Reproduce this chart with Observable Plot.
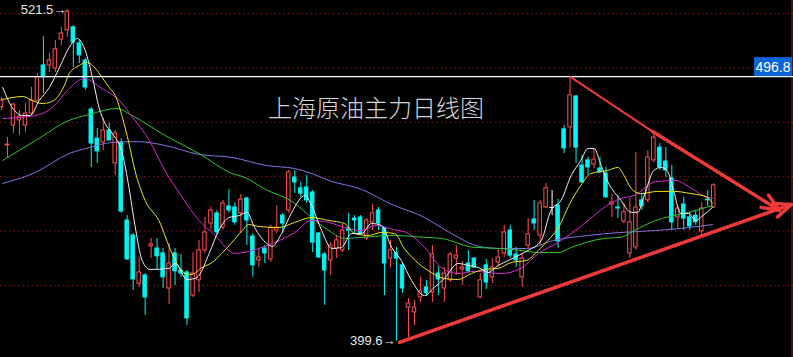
<!DOCTYPE html>
<html><head><meta charset="utf-8">
<script src="https://cdn.jsdelivr.net/npm/d3@7"></script>
<script src="https://cdn.jsdelivr.net/npm/@observablehq/plot@0.6"></script>
<style>html,body{margin:0;padding:0;background:#000;overflow:hidden}</style>
</head><body><div id="chart"></div>
<script>
// ---- data (daily candles, index 0..119) ----
const opens  = [485.5,471.5,478.8,480.7,478.8,483.2,488.0,500.9,500.9,499.8,510.4,513.8,514.9,509.0,502.7,484.7,474.0,472.6,477.0,464.9,
472.6,443.9,438.4,420.7,423.7,434.4,433.6,431.8,418.9,431.8,425.5,424.8,416.3,421.9,432.9,442.8,446.5,441.3,449.1,448.7,
446.5,452.0,438.0,429.2,433.6,429.6,440.2,445.7,447.6,459.7,455.7,456.0,454.2,439.1,431.4,429.2,433.6,432.9,441.0,444.6,
445.0,437.3,443.2,447.6,441.0,429.9,431.8,427.4,411.9,410.1,415.6,419.3,417.4,424.4,418.9,421.9,429.9,425.9,428.1,429.9,
415.6,427.4,423.0,428.5,431.8,440.2,431.4,423.0,434.7,444.3,438.4,448.7,448.7,449.4,477.4,478.1,489.5,464.1,466.0,464.5,
463.0,461.2,449.8,448.7,443.5,431.8,434.0,451.3,451.3,466.0,470.7,465.6,459.4,445.0,449.8,445.0,445.7,439.9,451.6,448.7];
const highs  = [489.1,474.4,486.9,484.3,486.9,492.8,497.9,511.5,505.3,510.1,514.9,521.5,515.6,510.1,503.5,485.4,477.7,481.4,479.6,477.0,
474.0,445.7,439.1,430.3,424.4,437.3,437.3,433.6,435.5,433.6,431.4,425.5,432.1,436.6,445.0,448.7,447.6,451.3,455.3,450.5,
453.5,452.4,439.1,433.6,434.7,442.1,449.4,446.5,462.3,462.3,457.9,460.5,454.9,439.5,432.1,435.8,438.4,442.4,446.5,445.7,
445.7,444.6,449.8,448.7,441.3,436.6,434.0,428.1,415.2,414.5,423.0,421.9,434.7,427.0,426.6,432.1,434.7,428.8,432.9,430.3,
424.4,429.6,429.9,433.6,442.1,442.1,434.0,431.8,444.6,451.3,451.3,457.5,454.9,451.6,478.8,496.8,489.9,467.8,467.1,470.4,
467.1,463.4,453.5,453.1,450.2,452.0,468.9,453.8,469.6,476.3,472.2,470.7,464.1,449.1,452.4,446.9,447.6,450.5,454.9,457.5];
const lows   = [484.3,467.1,475.9,475.2,476.3,482.5,488.0,490.6,498.3,498.3,508.2,511.2,500.2,501.6,491.7,463.4,464.9,469.6,473.3,460.5,
446.5,429.2,418.2,419.3,409.0,429.9,425.5,418.9,413.0,420.0,423.0,405.3,415.6,417.4,431.8,440.2,438.4,440.2,446.5,442.1,
439.1,434.7,423.0,426.6,428.1,428.5,439.1,439.1,446.5,453.8,452.4,450.2,432.1,429.9,412.7,423.7,429.9,432.1,432.9,439.1,
438.4,436.6,440.2,440.2,416.3,426.6,399.6,417.1,400.9,405.3,413.8,416.0,413.8,416.3,413.8,421.1,423.7,420.0,424.4,426.3,
415.2,418.5,420.7,426.6,430.3,429.9,426.6,419.3,433.6,440.2,434.7,448.3,445.7,433.6,468.5,470.7,464.9,457.5,460.5,463.0,
461.2,452.0,445.0,444.6,442.8,429.9,432.9,447.6,450.2,465.2,462.3,459.7,440.2,441.0,440.2,440.2,442.1,438.4,449.1,448.3];
const closes = [488.0,471.8,486.5,482.1,483.2,488.0,496.5,496.5,502.7,506.8,512.6,520.7,509.3,504.6,492.8,472.2,469.3,477.0,473.3,475.9,
447.2,429.6,422.2,424.8,415.6,435.1,430.7,423.0,428.1,425.2,424.4,407.9,424.4,432.9,439.5,447.6,439.5,450.2,447.6,443.2,
451.6,443.9,427.4,430.3,431.8,441.3,441.3,442.8,461.6,457.9,453.8,451.3,435.8,430.3,425.5,434.7,436.6,440.2,440.2,443.9,
439.1,443.9,446.5,442.8,428.1,432.9,429.9,418.9,413.4,411.9,417.8,417.1,431.4,422.2,424.4,431.4,431.0,426.6,425.2,426.6,
421.9,421.1,426.6,430.3,439.5,431.0,429.2,429.9,438.8,442.8,450.2,455.7,448.7,436.2,470.4,489.9,470.7,457.9,463.4,466.3,
461.6,452.4,450.5,448.3,446.9,443.2,448.7,449.1,467.1,474.4,463.4,462.3,443.2,448.3,444.6,441.7,443.2,448.3,451.3,456.8];

// moving averages: [candle index, price]
const maWhite = [[0.2,492.8],[1.8,485.4],[3.5,482.5],[4.8,482.5],[6.3,488.0],[8,492.8],[9.7,500.2],[11.3,507.5],[12.7,510.8],[13.8,507.5],
[15.2,496.5],[16.3,485.4],[17.3,479.6],[18.5,475.9],[20.2,468.5],[21.3,456.0],[22.3,442.1],[23.5,429.2],[24.8,425.9],[28,426.3],
[29,428.1],[31,422.2],[32.3,422.6],[33,423.7],[34.7,431.8],[36.3,440.2],[38,445.0],[39.7,445.7],[41,446.9],[42.3,441.3],
[44.3,435.5],[45.2,434.4],[46.8,439.1],[48.5,446.9],[50.7,453.1],[51.8,449.4],[53.5,440.2],[55.2,433.6],[56.8,434.0],[58.5,439.1],
[60.2,439.1],[61.8,442.8],[63.5,442.1],[65.2,434.0],[66.8,429.2],[68.5,421.9],[70.7,416.3],[72.3,419.3],[74,422.6],[76.3,428.1],
[78,427.4],[79.7,426.6],[81.3,424.8],[83,427.4],[84.7,429.2],[86.3,431.0],[88,432.9],[90.2,436.6],[91.8,447.6],[93.5,451.3],
[95.2,460.5],[96.8,466.0],[98,470.4],[99,470.4],[100.2,464.1],[101.3,458.2],[103.5,451.3],[105.2,446.9],[106.3,446.9],[107.3,452.4],
[109,462.3],[110.2,463.4],[111.2,462.3],[112.3,454.9],[113.5,446.5],[114.8,446.5],[116,443.9],[117.2,445.7],[118.8,448.7]];
const maYellow = [[0.2,488.4],[1.8,489.1],[3.5,489.5],[5.2,488.0],[6.8,486.9],[8,487.3],[9.3,489.1],[10.5,493.5],[11.3,497.9],[13,500.9],
[14,502.0],[14.8,501.6],[15.7,499.8],[16.8,496.5],[18,492.8],[19,489.9],[20.2,481.8],[21.3,472.2],[22.3,462.3],[24,451.3],
[26.3,443.9],[28.5,431.8],[30.7,424.4],[31.8,424.1],[33.5,426.6],[35.2,428.5],[36.8,431.8],[38.5,435.8],[40.2,440.2],[41.3,442.4],
[43,441.7],[46.3,441.3],[49,443.2],[51.8,445.0],[54.7,443.9],[57.3,442.8],[59,439.1],[61.3,438.4],[63.5,439.5],[65.7,439.1],
[67.3,433.6],[69.7,428.1],[71.8,424.8],[74,422.6],[76.3,422.2],[78.5,424.4],[80.7,425.9],[83,426.3],[85.2,428.5],[87.7,429.2],
[89.7,432.9],[91.3,436.6],[93,441.0],[94.8,449.4],[96.8,456.8],[98.5,461.2],[101.3,462.3],[103,463.4],[104,460.5],[105.2,455.7],
[106.8,453.8],[109.7,454.6],[112.3,454.6],[115.2,453.8],[118,452.4],[118.8,450.2]];
const maMagenta = [[0.2,481.4],[5.7,482.5],[8.5,485.4],[11.3,492.4],[13.8,496.1],[16.8,492.4],[19.7,488.0],[21.8,482.1],[24.7,473.3],[27.3,462.3],
[30.2,452.4],[33,443.9],[35.7,438.4],[39,431.8],[41.3,432.5],[44,434.4],[49,439.5],[51.8,443.9],[54.7,443.2],[57.3,441.3],
[60.2,440.2],[62.3,442.1],[65.5,440.6],[68,439.1],[70.7,434.0],[73.5,426.6],[76.3,424.4],[79,425.2],[83.5,424.4],[86.8,426.3],
[89.7,431.8],[93,435.8],[95.2,439.1],[98,443.9],[100.7,448.7],[103.5,452.0],[105.7,453.1],[109.3,458.2],[112.7,458.6],[114.8,456.4],
[117.2,453.1],[118.8,452.0]];
const maGreen = [[0.2,466.0],[5.7,473.3],[11.3,480.7],[14.7,482.9],[19.3,485.1],[21.5,482.9],[27.3,475.2],[33,468.5],[38.5,461.2],[40.7,459.7],
[43.8,455.7],[49,450.2],[51.8,445.0],[54.7,440.2],[57.3,437.3],[60.2,437.7],[65.5,438.4],[70.7,437.7],[73.5,437.3],[79,434.0],
[83.5,433.6],[86.8,432.9],[89.7,432.1],[93,432.1],[95.2,434.0],[100.7,437.3],[103.5,437.7],[105.7,440.2],[109.3,443.9],[114.8,446.9],
[118.8,449.4]];
const maBlue = [[0.2,457.5],[5.7,461.6],[11.3,468.5],[14.7,470.7],[18.5,472.6],[22.7,472.9],[27.3,471.5],[33,468.2],[38.5,467.1],[44.3,464.1],
[49,463.0],[51.8,461.2],[54.7,458.6],[60.2,455.3],[65.2,449.8],[70.7,445.0],[73.5,441.3],[76.3,437.7],[79.7,434.4],[83.5,433.6],
[87.7,433.6],[92.3,436.6],[98,438.4],[103.5,439.5],[109.3,440.2],[114.8,441.3],[118.8,442.4]];

const gridPrices = [520, 500, 480, 460, 440, 420];
const lastPrice = 496.8;
const extremes = [{i: 11, price: 521.5}, {i: 66, price: 399.6}];
const title = "上海原油主力日线图";
// hand-drawn triangle lines: [index, price] endpoints
const trendThin  = [{x1: 95, y1: 496.8, x2: 108.8, y2: 476.6}];
const trendArrow = [{x1: 108.8, y1: 476.6, x2: 130.0, y2: 447.6},
                    {x1: 66.5, y1: 399.1, x2: 132.0, y2: 449.8}];

// ---- chart ----
const candles = opens.map((o, i) => ({i, open: o, high: highs[i], low: lows[i], close: closes[i]}));
const RED = "#ff4f4f", CYAN = "#00f4f4", WHITE = "#ffffff";
const colorOf = d => d.close > d.open ? RED : d.close < d.open ? CYAN : WHITE;
const bodies = candles.filter(d => Math.abs(d.close - d.open) >= 0.3);
const dojis = candles.filter(d => Math.abs(d.close - d.open) < 0.3);
const xDomain = [-1/6, 794/6];
const LINE_RED = "#f03a3a";

const chart = Plot.plot({
  width: 793, height: 357,
  margin: 0,
  style: {background: "#000", color: "#ddd", fontFamily: "'Liberation Sans', Arial, sans-serif"},
  x: {domain: xDomain, axis: null},
  y: {domain: [393.53, 524.78], axis: null},
  marks: [
    Plot.ruleY(gridPrices, {stroke: "#8c1414", strokeDasharray: "1.5,3", strokeWidth: 1}),
    Plot.ruleX([xDomain[1]], {stroke: "#a01010", dx: -1.5, strokeWidth: 1}),
    Plot.ruleX(candles, {x: "i", y1: "low", y2: "high", stroke: colorOf, strokeWidth: 1}),
    Plot.rect(bodies, {
      x1: d => d.i - 0.29, x2: d => d.i + 0.29,
      y1: d => Math.min(d.open, d.close), y2: d => Math.max(d.open, d.close),
      fill: d => d.close > d.open ? "#000" : CYAN,
      stroke: colorOf, strokeWidth: 1
    }),
    Plot.ruleY(dojis, {y: "close", x1: d => d.i - 0.4, x2: d => d.i + 0.4, stroke: colorOf, strokeWidth: 1}),
    Plot.line(maBlue,    {x: d => d[0], y: d => d[1], stroke: "#7b78e0", strokeWidth: 1, curve: "monotone-x"}),
    Plot.line(maGreen,   {x: d => d[0], y: d => d[1], stroke: "#2ec82e", strokeWidth: 1, curve: "monotone-x"}),
    Plot.line(maMagenta, {x: d => d[0], y: d => d[1], stroke: "#d62ad6", strokeWidth: 1, curve: "monotone-x"}),
    Plot.line(maYellow,  {x: d => d[0], y: d => d[1], stroke: "#e8e820", strokeWidth: 1, curve: "monotone-x"}),
    Plot.line(maWhite,   {x: d => d[0], y: d => d[1], stroke: "#f0f0f0", strokeWidth: 1, curve: "monotone-x"}),
    Plot.ruleY([lastPrice], {stroke: "#ffffff", strokeWidth: 1.3}),
    Plot.link(trendThin, {x1: "x1", y1: "y1", x2: "x2", y2: "y2", stroke: LINE_RED, strokeWidth: 2}),
    Plot.arrow(trendArrow, {x1: "x1", y1: "y1", x2: "x2", y2: "y2", stroke: LINE_RED, strokeWidth: 3.5, headLength: 8, headAngle: 45, bend: 0}),
    Plot.text(extremes, {x: "i", y: "price", text: d => d.price.toFixed(1) + "→", textAnchor: "end", dx: -1,
      fill: "#e8e8e8", fontSize: 13, lineAnchor: "middle"}),
    Plot.text([title], {frameAnchor: "top", text: d => d, dx: -21, dy: 109, lineAnchor: "middle",
      fill: "#d6d6d6", fontSize: 24, fontFamily: "'Noto Sans CJK SC', sans-serif", fontWeight: 300}),
    Plot.text([lastPrice], {y: d => d, text: d => d.toFixed(1), frameAnchor: "right", textAnchor: "end",
      dx: -3, dy: -9, fill: "#ffffff", fontSize: 14, lineAnchor: "middle"})
  ]
});
document.getElementById("chart").appendChild(chart);

// blue background box behind the last-price tag, sized from the rendered text (screen space)
const tag = Array.from(chart.querySelectorAll("text")).find(t => t.textContent === lastPrice.toFixed(1));
if (tag) {
  const tb = tag.getBoundingClientRect();
  const sb = chart.getBoundingClientRect();
  const yLine = chart.scale("y").apply(lastPrice);
  const r = document.createElementNS("http://www.w3.org/2000/svg", "rect");
  r.setAttribute("x", tb.left - sb.left - 1.5);
  r.setAttribute("width", tb.width + 3);
  r.setAttribute("y", yLine - 19);
  r.setAttribute("height", 19);
  r.setAttribute("fill", "#0a64d8");
  let g = tag;
  while (g.parentNode && g.parentNode !== chart) g = g.parentNode;
  chart.insertBefore(r, g);
}
</script>
</body></html>
